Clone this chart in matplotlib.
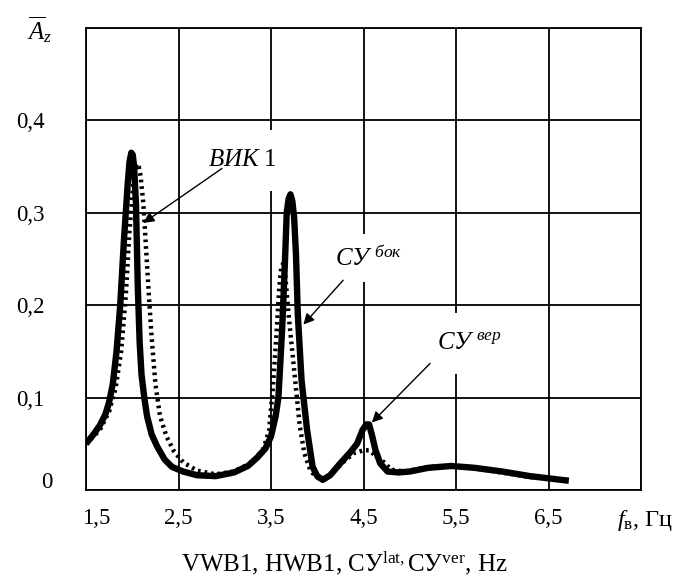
import matplotlib
matplotlib.use('Agg')
from matplotlib import pyplot as plt
from matplotlib.transforms import ScaledTranslation
import numpy as np

plt.rcParams['font.family'] = 'Liberation Serif'
plt.rcParams['mathtext.fontset'] = 'custom'
plt.rcParams['mathtext.rm'] = 'Liberation Serif'
plt.rcParams['mathtext.it'] = 'Liberation Serif:italic'

# solid curve (thick)
f_solid = [1.5, 1.58, 1.65, 1.71, 1.75, 1.79, 1.83, 1.87, 1.91, 1.95, 1.97, 1.99, 2.005, 2.02,
           2.04, 2.06, 2.08, 2.1, 2.13, 2.16, 2.21, 2.27, 2.35, 2.43, 2.55, 2.7, 2.9, 3.1,
           3.25, 3.35, 3.44, 3.5, 3.55, 3.58, 3.62, 3.65, 3.67, 3.69, 3.71, 3.73, 3.75, 3.77,
           3.79, 3.83, 3.89, 3.95, 4.0, 4.06, 4.14, 4.25, 4.35, 4.43, 4.49, 4.53, 4.56, 4.59,
           4.63, 4.68, 4.76, 4.88, 5.0, 5.2, 5.45, 5.7, 6.0, 6.3, 6.72]
a_solid = [0.05, 0.06, 0.07, 0.082, 0.095, 0.115, 0.15, 0.2, 0.27, 0.33, 0.355, 0.365, 0.363,
           0.35, 0.31, 0.22, 0.16, 0.125, 0.1, 0.08, 0.06, 0.047, 0.033, 0.025, 0.02, 0.016,
           0.015, 0.019, 0.026, 0.035, 0.045, 0.058, 0.08, 0.1, 0.173, 0.245, 0.3, 0.315, 0.32,
           0.313, 0.295, 0.255, 0.19, 0.119, 0.065, 0.025, 0.015, 0.011, 0.016, 0.029, 0.04,
           0.05, 0.065, 0.071, 0.071, 0.06, 0.043, 0.029, 0.02, 0.019, 0.02, 0.024, 0.026,
           0.024, 0.02, 0.015, 0.01]

# dotted curve
f_dot = [1.5, 1.65, 1.75, 1.82, 1.88, 1.93, 1.97, 2.01, 2.03, 2.05, 2.07, 2.09, 2.12, 2.15,
         2.18, 2.21, 2.25, 2.3, 2.37, 2.45, 2.55, 2.7, 2.9, 3.1, 3.3, 3.42, 3.48, 3.52, 3.56,
         3.59, 3.61, 3.63, 3.65, 3.69, 3.73, 3.77, 3.81, 3.86, 3.93, 4.02, 4.1, 4.2, 4.3, 4.4,
         4.5, 4.56, 4.62, 4.7, 4.8, 4.95, 5.2, 5.5, 5.8, 6.3, 6.7]
a_dot = [0.05, 0.065, 0.085, 0.11, 0.15, 0.21, 0.28, 0.33, 0.347, 0.353, 0.35, 0.34, 0.31, 0.26,
         0.21, 0.165, 0.115, 0.08, 0.058, 0.042, 0.03, 0.021, 0.017, 0.02, 0.03, 0.045, 0.065,
         0.11, 0.17, 0.22, 0.24, 0.245, 0.237, 0.19, 0.15, 0.11, 0.07, 0.04, 0.02, 0.012, 0.013,
         0.022, 0.032, 0.04, 0.043, 0.043, 0.038, 0.032, 0.022, 0.02, 0.025, 0.026, 0.022,
         0.014, 0.011]

x_ticks = [1.5, 2.5, 3.5, 4.5, 5.5, 6.5]
x_labels = ['1,5', '2,5', '3,5', '4,5', '5,5', '6,5']
y_ticks = [0, 0.1, 0.2, 0.3, 0.4]
y_labels = ['0', '0,1', '0,2', '0,3', '0,4']

fig = plt.figure(figsize=(6.81, 5.79), dpi=100)
ax = fig.add_axes([86/681, 1-490/579, 555/681, 462/579])

ax.plot(f_dot, a_dot, color='black', lw=3.2, linestyle=(0, (0.6, 0.9)), zorder=2)
ax.plot(f_solid, a_solid, color='black', lw=4.6, solid_capstyle='butt',
        solid_joinstyle='round', zorder=2.2)

ax.set_xlim(1.5, 7.5)
ax.set_ylim(0, 0.5)
ax.set_xticks(x_ticks)
ax.set_xticklabels(x_labels)
ax.set_yticks(y_ticks)
ax.set_yticklabels(y_labels)
ax.set_xticks([7.5], minor=True)
ax.set_yticks([0.5], minor=True)
ax.grid(True, which='both', color='black', lw=1.3)
ax.set_axisbelow(True)
ax.tick_params(which='both', length=0, labelsize=16.5)
ax.tick_params(axis='x', pad=13)
ax.tick_params(axis='y', pad=30)
for s in ax.spines.values():
    s.set_linewidth(1.3)

# nudge a couple of tick labels like in the original
xl = ax.get_xticklabels()
xl[0].set_transform(xl[0].get_transform() + ScaledTranslation(10/100, 0, fig.dpi_scale_trans))
yl = ax.get_yticklabels()
yl[0].set_transform(yl[0].get_transform() + ScaledTranslation(8/100, 10/100, fig.dpi_scale_trans))

# curve labels (white box hides grid behind them)
box = dict(fc='white', ec='none', pad=14)
ax.text(3.19, 0.357, r'$ВИК\ \mathrm{1}$', fontsize=18, ha='center', va='center', bbox=box, zorder=1)
ax.text(4.55, 0.251, r'$СУ^{\ бок}$', fontsize=18, ha='center', va='center',
        bbox=dict(fc='white', ec='none', pad=8), zorder=1)
ax.text(5.65, 0.159, r'$СУ^{\ вер}$', fontsize=18, ha='center', va='center', bbox=box, zorder=1)

arrow = dict(arrowstyle='-|>', color='black', lw=1.0, mutation_scale=16, shrinkA=0, shrinkB=0)
ax.annotate('', xy=(2.12, 0.289), xytext=(2.97, 0.348), arrowprops=arrow, zorder=3)
ax.annotate('', xy=(3.85, 0.179), xytext=(4.28, 0.227), arrowprops=arrow, zorder=3)
ax.annotate('', xy=(4.59, 0.073), xytext=(5.22, 0.137), arrowprops=arrow, zorder=3)

# axis titles
ax.text(-0.083, 0.996, r'$\overline{A}_z$', transform=ax.transAxes, fontsize=18,
        ha='center', va='center')
ax.text(1.007, -0.065, r'$f_{\mathrm{в}}$, Гц', transform=ax.transAxes, fontsize=17.5,
        ha='center', va='center')
ax.text(0.465, -0.158, r'VWB1, HWB1, СУ$^{\mathrm{lat,}}$СУ$^{\mathrm{ver}}$, Hz',
        transform=ax.transAxes, fontsize=18, ha='center', va='center')

fig.savefig('out.png', dpi=100)
